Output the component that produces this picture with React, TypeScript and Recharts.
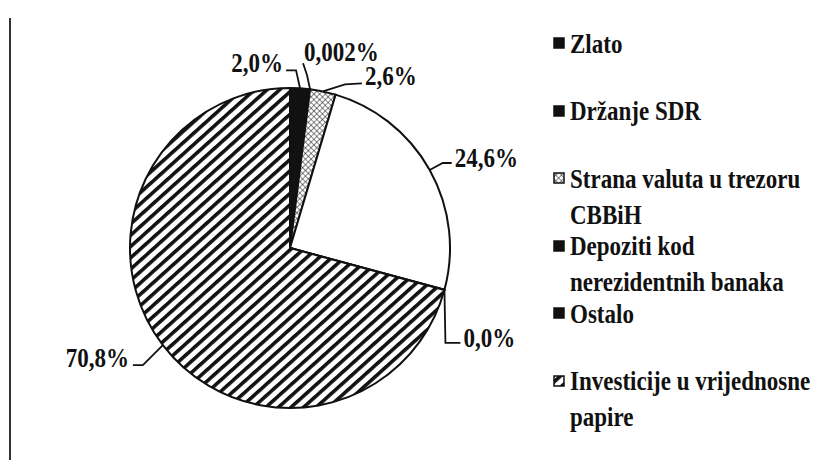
import { Cell, Legend, Pie, PieChart } from "recharts";

const categories = [
  "Zlato",
  "Držanje SDR",
  "Strana valuta u trezoru CBBiH",
  "Depoziti kod nerezidentnih banaka",
  "Ostalo",
  "Investicije u vrijednosne papire",
];
const shares = [2.0, 0.002, 2.6, 24.6, 0.04, 70.8];

const sliceFills = ["#111", "#111", "url(#crossHatch)", "#fff", "#111", "url(#diagHatch)"];
const legendFills = ["#111", "#111", "url(#crossHatch)", "#111", "#111", "url(#diagHatch)"];

// label placement relative to the slice's anchor on the rim: elbow, line end, text pos
const labelLayout = [
  { elbow: [-4, -18], end: [-14, -18], text: [-17, -16], anchor: "end" },
  { elbow: [-3, -14], end: [-7, -26], text: [-6, -28], anchor: "start" },
  { elbow: [22, -7], end: [39, -8], text: [42, -6], anchor: "start" },
  { elbow: [13, -7], end: [22, -7], text: [25, -3], anchor: "start" },
  { elbow: [1, 53], end: [16, 53], text: [19, 57], anchor: "start" },
  { elbow: [-20, 20], end: [-30, 20], text: [-34, 22], anchor: "end" },
] as const;

const data = categories.map((name, i) => ({ name, value: shares[i] }));

const RAD = Math.PI / 180;
const FONT = "'Liberation Serif', 'Times New Roman', serif";

function fmt(v: number) {
  return v.toFixed(v < 0.01 ? 3 : 1).replace(".", ",") + "%";
}

function renderLabel(props: any) {
  const { cx, cy, midAngle, outerRadius, index, value } = props;
  const ax = cx + outerRadius * Math.cos(midAngle * RAD);
  const ay = cy - outerRadius * Math.sin(midAngle * RAD);
  const l = labelLayout[index];
  const pts = [
    [ax, ay],
    [ax + l.elbow[0], ay + l.elbow[1]],
    [ax + l.end[0], ay + l.end[1]],
  ];
  // scan in the source is a bit stretched vertically
  const tx = ax + l.text[0];
  const ty = ay + l.text[1];
  return (
    <g key={`lbl-${index}`}>
      <polyline
        points={pts.map((p) => p.join(",")).join(" ")}
        fill="none"
        stroke="#111"
        strokeWidth={1.8}
      />
      <text
        transform={`translate(${tx},${ty}) scale(1,1.17)`}
        textAnchor={l.anchor}
        fontFamily={FONT}
        fontWeight="bold"
        fontSize={23}
        fill="#111"
      >
        {fmt(value)}
      </text>
    </g>
  );
}

function LegendBox() {
  return (
    <div style={{ fontFamily: FONT, fontWeight: "bold", fontSize: 23, color: "#111" }}>
      {categories.map((name, i) => (
        <div key={name} style={{ display: "flex", height: 67.6, alignItems: "flex-start" }}>
          <svg width={17} height={24} style={{ flex: "none" }}>
            <rect x={1} y={7} width={10} height={10} fill={legendFills[i]} stroke="#111" strokeWidth={1.5} />
          </svg>
          <span
            style={{
              display: "inline-block",
              width: 250,
              lineHeight: "31px",
              marginTop: -3.5,
              transform: "scaleY(1.17)",
              transformOrigin: "0 12px",
            }}
          >
            {name}
          </span>
        </div>
      ))}
    </div>
  );
}

export default function App() {
  return (
    <div style={{ position: "absolute", left: 0, top: 0, width: 830, height: 460, background: "#fff" }}>
      <div style={{ position: "absolute", left: 9, top: 18, width: 2, height: 442, background: "#333" }} />
      <PieChart width={830} height={460} margin={{ top: 0, right: 0, bottom: 0, left: 0 }}>
        <defs>
          <pattern
            id="diagHatch"
            patternUnits="userSpaceOnUse"
            width={8.4}
            height={8.4}
            patternTransform="rotate(48)"
          >
            <rect x={0} y={0} width={8.4} height={8.4} fill="#fff" />
            <rect x={0} y={0} width={3.6} height={8.4} fill="#111" />
          </pattern>
          <pattern
            id="crossHatch"
            patternUnits="userSpaceOnUse"
            width={4}
            height={4}
            patternTransform="rotate(45)"
          >
            <rect x={0} y={0} width={4} height={4} fill="#fff" />
            <line x1={0} y1={0} x2={4} y2={0} stroke="#111" strokeWidth={1} />
            <line x1={0} y1={0} x2={0} y2={4} stroke="#111" strokeWidth={1} />
          </pattern>
        </defs>
        <Pie
          data={data}
          dataKey="value"
          nameKey="name"
          cx={290}
          cy={248}
          outerRadius={160}
          startAngle={90}
          endAngle={-270}
          stroke="#111"
          strokeWidth={2}
          label={renderLabel}
          labelLine={false}
          isAnimationActive={false}
        >
          {data.map((d, i) => (
            <Cell key={d.name} fill={sliceFills[i]} />
          ))}
        </Pie>
        <Legend
          layout="vertical"
          verticalAlign="top"
          align="right"
          content={() => <LegendBox />}
          wrapperStyle={{ left: 553, top: 31, width: 275 }}
        />
      </PieChart>
    </div>
  );
}
